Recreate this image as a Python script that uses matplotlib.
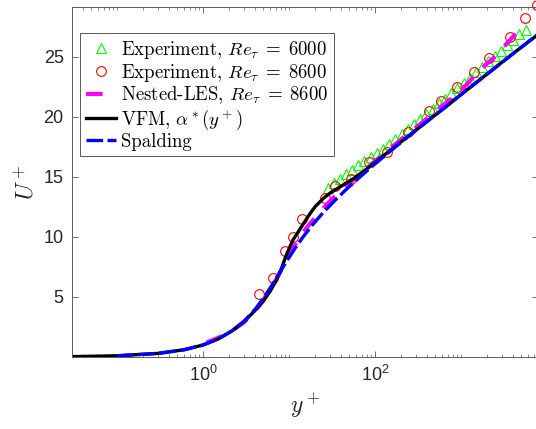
import numpy as np
import matplotlib
matplotlib.use('Agg')
import matplotlib.pyplot as plt
from matplotlib.ticker import LogLocator, FixedLocator, NullFormatter

plt.rcParams['font.family'] = ['Liberation Sans', 'DejaVu Sans']
plt.rcParams['mathtext.fontset'] = 'cm'

# ---------------- data ----------------
exp6000_y = [28, 33, 39, 46, 54, 64, 75, 89, 105, 124, 146, 172, 203, 240, 283,
             334, 394, 465, 549, 648, 765, 903, 1066, 1258, 1485, 1753, 2069,
             2442, 2883, 3403, 4017, 4741, 5597]
exp6000_U = [14.1, 14.45, 14.8, 15.2, 15.55, 15.95, 16.3, 16.65, 17.0, 17.35, 17.75,
             18.15, 18.55, 18.95, 19.35, 19.8, 20.25, 20.65, 21.1, 21.5, 21.95, 22.4,
             22.8, 23.25, 23.7, 24.15, 24.6, 25.05, 25.5, 25.95, 26.4, 26.85, 27.2]

exp8600_y = [4.44, 6.5, 8.9, 11.1, 14.2, 26, 34, 53, 84.5, 138, 242, 427, 590,
             900, 1410, 2100, 3660, 5540, 7500]
exp8600_U = [5.25, 6.56, 8.86, 9.98, 11.48, 13.2, 14.2, 14.8, 16.2, 17.1, 18.7,
             20.5, 21.3, 22.45, 23.7, 24.9, 26.6, 28.2, 29.25]

les_y = [1.1, 1.5, 2.0, 3.0, 4.0, 5.0, 6.0, 7.0, 8.5, 10, 11, 13, 15, 18, 22, 26,
         32, 40, 55, 80, 120, 200, 350, 600, 900, 1200, 1650, 2580, 3500, 4410,
         5500]
les_U = [1.2, 1.6, 2.0, 2.9, 3.8, 4.7, 5.6, 6.4, 7.5, 8.35, 9.0, 9.9, 10.5, 11.2,
         11.9, 12.5, 13.2, 13.8, 14.7, 15.7, 16.8, 18.1, 19.5, 20.9, 21.9, 22.8,
         23.9, 25.1, 26.2, 27.0, 27.8]

vfm_y = [0.03, 0.1, 0.3, 0.6, 1.0, 1.5, 2.2, 3.0, 4.0, 5.0, 6.0, 7.0, 8.0, 9.3,
         11, 13, 15, 17, 20, 25, 30, 40, 55, 75, 100, 150, 250, 400, 700, 1000,
         2000, 4000, 7700]
vfm_U = [0.03, 0.1, 0.3, 0.6, 1.0, 1.5, 2.2, 2.95, 3.85, 4.65, 5.45, 6.3, 7.2, 8.5,
         9.7, 10.5, 11.2, 11.8, 12.5, 13.2, 13.65, 14.2, 14.8, 15.5, 16.2, 17.2,
         18.45, 19.6, 20.95, 21.85, 23.55, 25.25, 26.8]

spal_y = [0.1, 0.3, 0.6, 1.0, 1.5, 2.2, 3.02, 4.06, 5.15, 6.35, 7.73, 9.42, 11.6,
          14.55, 18.7, 24.76, 33.7, 47, 67, 97, 142.5, 211, 471, 1065, 2411, 5475,
          7700]
spal_U = [0.1, 0.3, 0.6, 1.0, 1.5, 2.2, 3.0, 4.0, 5.0, 6.0, 7.0, 8.0, 9.0, 10.0,
          11.0, 12.0, 13.0, 14.0, 15.0, 16.0, 17.0, 18.0, 20.0, 22.0, 24.0, 26.0,
          26.85]

x_major = [1e-2, 1e0, 1e2, 1e4]
y_ticks = [5, 10, 15, 20, 25]

# ---------------- figure ----------------
W, H = 536, 429
fig = plt.figure(figsize=(W / 100, H / 100), dpi=100)
ax = fig.add_axes([72 / W, (H - 357) / H, (537.5 - 72) / W, (357 - 7.3) / H])

ax.plot(exp6000_y, exp6000_U, linestyle='none', marker='^', mfc='none',
        mec='#00ff00', ms=7, mew=0.8, label=r'Experiment, $Re_\tau\;=\;6000$')
ax.plot(exp8600_y, exp8600_U, linestyle='none', marker='o', mfc='none',
        mec='#ff0000', ms=7, mew=0.8, clip_on=False,
        label=r'Experiment, $Re_\tau\;=\;8600$')
ax.plot(les_y, les_U, color='#ff00ff', lw=3.0, ls=(0, (4, 3.3)),
        label=r'Nested-LES, $Re_\tau\;=\;8600$')
ax.plot(vfm_y, vfm_U, color='k', lw=2.4, label=r'VFM, $\alpha^*(y^+)$')
ax.plot(spal_y, spal_U, color='#0000ff', lw=2.4, ls=(0, (5, 1.3)),
        label='Spalding')

ax.set_xscale('log')
ax.set_xlim(0.03, 7700)
ax.set_ylim(0, 29.1)
ax.xaxis.set_major_locator(FixedLocator(x_major))
ax.xaxis.set_minor_locator(LogLocator(base=10, subs=np.arange(1, 10), numticks=30))
ax.xaxis.set_minor_formatter(NullFormatter())
ax.set_yticks(y_ticks)

for s in ax.spines.values():
    s.set_color('0.35')
    s.set_linewidth(0.7)
ax.tick_params(which='both', direction='in', top=True, right=True,
               colors='0.35', labelcolor='0.15', labelsize=13)
ax.tick_params(which='major', length=4, width=0.6, pad=6)
ax.tick_params(which='minor', length=2.5, width=0.5)

ax.set_xlabel(r'$y^+$', fontsize=17, color='0.15', labelpad=4)
ax.set_ylabel(r'$U^+$', fontsize=17, color='0.15', labelpad=4)

leg = ax.legend(loc='upper left', bbox_to_anchor=(80 / W, (H - 33) / H),
                bbox_transform=fig.transFigure, borderaxespad=0,
                prop={'family': 'cmr10', 'size': 13.5}, fancybox=False,
                framealpha=1, edgecolor='0.35', handlelength=1.6,
                handletextpad=0.3, labelspacing=0.05, borderpad=0.3)
leg.get_frame().set_linewidth(0.7)

fig.savefig('out.png', dpi=100)
